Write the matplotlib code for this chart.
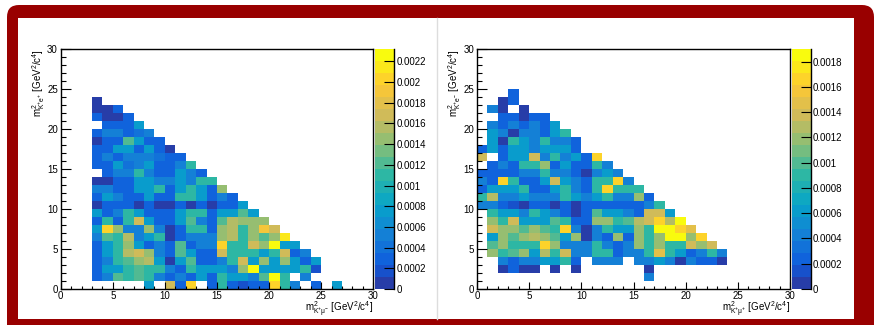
import matplotlib
matplotlib.use("Agg")
import matplotlib.pyplot as plt
import numpy as np
from matplotlib.colors import ListedColormap, BoundaryNorm, LinearSegmentedColormap
from matplotlib.patches import FancyBboxPatch, Rectangle

plt.rcParams['font.family'] = ['Liberation Sans', 'DejaVu Sans']
plt.rcParams['mathtext.fontset'] = 'custom'
plt.rcParams['mathtext.rm'] = 'Liberation Sans'
plt.rcParams['mathtext.it'] = 'Liberation Sans:italic'
plt.rcParams['mathtext.default'] = 'regular'

# bin contents in units of 1e-4, one list per y bin (y = 0, 1, 2, ...), index = x bin
left_rows = [
    [0, 0, 0, 0, 0, 0, 0, 0, 8, 0, 17, 3, 20, 0, 3, 11, 3, 1.5, 3, 3, 20, 11, 5.5, 0, 3, 0, 8],
    [0, 0, 0, 3, 5.5, 12, 11, 12, 11, 5.5, 3, 5.5, 3, 8, 3, 11, 8, 8, 5.5, 12, 23, 11, 0, 5.5],
    [0, 0, 0, 3, 8, 8, 11, 12, 11, 11, 5.5, 3, 11, 8, 8, 8, 5.5, 14, 23, 8, 8, 8, 8, 11, 1.5],
    [0, 0, 0, 3, 5.5, 11, 12, 14, 15.5, 8, 1, 8, 12, 3, 3, 5.5, 11, 17, 8, 14, 8, 14, 8, 3, 8],
    [0, 0, 0, 3, 8, 11, 15.5, 17, 14, 5.5, 3, 12, 8, 3, 3, 17, 11, 11, 11, 8, 11, 17, 3, 5.5],
    [0, 0, 0, 3, 8, 11, 14, 8, 3, 5.5, 3, 12, 3, 5.5, 5.5, 20, 11, 11, 17, 14, 23, 8, 8],
    [0, 0, 0, 5.5, 12, 11, 15.5, 5.5, 8, 11, 1, 3, 5.5, 5.5, 5.5, 14, 15.5, 11, 14, 12, 14, 22],
    [0, 0, 0, 8, 20, 14, 5.5, 5.5, 14, 5.5, 1, 3, 11, 11, 3, 14, 15.5, 11, 14, 19, 17],
    [0, 0, 0, 3, 11, 3, 11, 17, 8, 3, 3, 8, 12, 5.5, 3, 12, 15.5, 14, 14, 14],
    [0, 0, 0, 8, 3, 5.5, 11, 8, 3, 3, 3, 8, 11, 11, 3, 8, 8, 12, 8],
    [0, 0, 0, 1, 3, 3, 3, 1, 3, 1, 1, 3, 1, 3, 1, 3, 3, 8],
    [0, 0, 0, 3, 8, 5.5, 3, 3, 8, 3, 3, 11, 11, 8, 3, 5.5, 3],
    [0, 0, 0, 5.5, 5.5, 3, 3, 8, 8, 11, 3, 8, 11, 8, 3, 14],
    [0, 0, 0, 1, 1, 3, 3, 8, 8, 5.5, 5.5, 8, 5.5, 11, 11],
    [0, 0, 0, 0, 3, 5.5, 5.5, 11, 5.5, 3, 3, 8, 5.5, 3],
    [0, 0, 0, 3, 3, 8, 4, 5.5, 8, 3, 3, 5.5, 11],
    [0, 0, 0, 3, 5.5, 3, 5.5, 5.5, 5.5, 4, 3, 3],
    [0, 0, 0, 3, 3, 8, 8, 3, 8, 3, 1],
    [0, 0, 0, 1, 3, 3, 12, 8, 3, 3],
    [0, 0, 0, 3, 5.5, 5.5, 3, 4, 5.5],
    [0, 0, 0, 0, 3, 3, 3, 7],
    [0, 0, 0, 3, 1, 1, 3],
    [0, 0, 0, 1, 1, 3],
    [0, 0, 0, 1],
]

right_rows = [
    [],
    [0, 0, 0, 0, 0, 0, 0, 0, 0, 0, 0, 0, 0, 0, 0, 0, 4.5],
    [0, 0, 0.5, 2.4, 0.5, 0.5, 0, 0.5, 0, 0.5, 0, 0, 0, 0, 0, 0, 0.5],
    [0, 0, 4.5, 2.4, 4.5, 4.5, 6.5, 6.5, 9, 2.4, 0, 4.5, 4.5, 4.5, 0, 4.5, 4.5, 6.5, 4.5, 0.5, 4.5, 2.4, 2.4, 0.5],
    [0, 11.5, 9, 10, 11.5, 6.5, 12.7, 9, 13.9, 4.5, 4.5, 9, 9, 2.4, 4.5, 4.5, 9, 15, 9, 6.5, 2.4, 4.5, 9, 4.5],
    [0, 10, 11.5, 9, 9, 9, 16.3, 11.5, 4.5, 4.5, 4.5, 9, 4.5, 2.4, 4.5, 11.5, 9, 11.5, 9, 9, 13.9, 11.5, 13.9],
    [0, 6.5, 11.5, 10, 11.5, 12.7, 11.5, 10, 6.5, 11.5, 0.5, 4.5, 2.4, 11.5, 2.4, 11.5, 9, 11.5, 18.5, 18.5, 11.5, 16.3],
    [0, 13.9, 11.5, 11.5, 10, 11.5, 10, 9, 16.3, 4.5, 0.5, 4.5, 9, 6.5, 6.5, 11.5, 9, 18.5, 18.5, 16.3, 15],
    [0, 11.5, 9, 13.9, 6.5, 6.5, 6.5, 10, 9, 2.4, 2.4, 11.5, 11.5, 9, 10, 12.7, 13.9, 16.3, 12.7, 18.5],
    [0, 9, 6.5, 6.5, 4.5, 9, 6.5, 4.5, 2.4, 0.5, 2.4, 10, 6.5, 6.5, 4.5, 2.4, 13.9, 13.9, 6.5],
    [4.5, 4.5, 2.4, 1.5, 0.5, 2.4, 2.4, 0.5, 2.4, 0.5, 2.4, 2.4, 2.4, 2.4, 2.4, 2.4, 4.5, 9],
    [9, 12.7, 4.5, 4.5, 6.5, 4.5, 4.5, 4.5, 9, 6.5, 4.5, 6.5, 9, 4.5, 4.5, 11.5, 2.4],
    [2.4, 6.5, 6.5, 6.5, 9, 2.4, 2.4, 6.5, 9, 4.5, 2.4, 9, 16.3, 9, 9, 9],
    [4.5, 2.4, 16.3, 9, 2.4, 2.4, 6.5, 13.9, 6.5, 4.5, 2.4, 9, 9, 16.3, 4.5],
    [2.4, 2.4, 2.4, 2.4, 4.5, 4.5, 9, 4.5, 4.5, 2.4, 0.5, 4.5, 6.5, 4.5],
    [0, 2.4, 4.5, 2.4, 9, 9, 11.5, 2.4, 6.5, 2.4, 2.4, 9, 4.5],
    [13.9, 0, 2.4, 6.5, 6.5, 13.9, 4.5, 9, 4.5, 6.5, 2.4, 16.3],
    [2.4, 6.5, 2.4, 6.5, 6.5, 4.5, 6.5, 6.5, 6.5, 2.4],
    [0, 6.5, 0.5, 9, 6.5, 4.5, 9, 4.5, 4.5, 2.4],
    [0, 6.5, 4.5, 0.5, 4.5, 4.5, 2.4, 6.5, 9],
    [0, 4.5, 2.4, 4.5, 2.4, 4.5, 2.4, 6.5],
    [0, 0, 2.4, 2.4, 0.5, 2.4, 2.4],
    [0, 4.5, 0.5, 0, 0.5],
    [0, 0, 0.5, 2.4],
    [0, 0, 0, 2.4],
]

left_zmax = 0.00232
right_zmax = 0.0019
left_cbar_ticks = [0, 0.0002, 0.0004, 0.0006, 0.0008, 0.001, 0.0012, 0.0014, 0.0016, 0.0018, 0.002, 0.0022]
right_cbar_ticks = [0, 0.0002, 0.0004, 0.0006, 0.0008, 0.001, 0.0012, 0.0014, 0.0016, 0.0018]

left_xlabel = r"m$^{2}_{K^{+}\mu^{-}}$ [GeV$^{2}$/c$^{4}$]"
left_ylabel = r"m$^{2}_{K^{+}e^{+}}$ [GeV$^{2}$/c$^{4}$]"
right_xlabel = r"m$^{2}_{K^{+}\mu^{+}}$ [GeV$^{2}$/c$^{4}$]"
right_ylabel = r"m$^{2}_{K^{+}e^{-}}$ [GeV$^{2}$/c$^{4}$]"

# ROOT kBird palette
stops = [0.0, 0.125, 0.25, 0.375, 0.5, 0.625, 0.75, 0.875, 1.0]
red = [0.2082, 0.0592, 0.0780, 0.0232, 0.1802, 0.5301, 0.8186, 0.9956, 0.9764]
green = [0.1664, 0.3599, 0.5041, 0.6419, 0.7178, 0.7492, 0.7328, 0.7862, 0.9832]
blue = [0.5293, 0.8684, 0.8385, 0.7914, 0.6425, 0.4662, 0.3499, 0.1968, 0.0539]
bird = LinearSegmentedColormap.from_list(
    "bird", list(zip(stops, zip(red, green, blue))))
nlev = 20
cmap = ListedColormap([bird(min((i + 0.99) / nlev, 1.0)) for i in range(nlev)])

W, H = 877, 325


def to_grid(rows):
    z = np.zeros((30, 30))
    for j, r in enumerate(rows):
        z[j, :len(r)] = r
    z = z * 1e-4
    return np.ma.masked_where(z <= 0, z)


def draw(rect, cbrect, rows, zmax, ticks, xlabel, ylabel):
    x0, y0, x1, y1 = rect
    ax = fig.add_axes([x0 / W, 1 - y1 / H, (x1 - x0) / W, (y1 - y0) / H])
    edges = np.arange(31)
    norm = BoundaryNorm(np.linspace(0, zmax, nlev + 1), nlev)
    mesh = ax.pcolormesh(edges, edges, to_grid(rows), cmap=cmap, norm=norm)
    ax.set_xlim(0, 30)
    ax.set_ylim(0, 30)
    ax.set_xticks(range(0, 31, 5))
    ax.set_yticks(range(0, 31, 5))
    ax.set_xticks(range(31), minor=True)
    ax.set_yticks(range(31), minor=True)
    ax.tick_params(axis='x', which='major', direction='in', length=5, width=0.8, labelsize=7, pad=1.5)
    ax.tick_params(axis='x', which='minor', direction='in', length=2.5, width=0.8)
    ax.tick_params(axis='y', which='major', direction='in', length=7, width=0.8, labelsize=7, pad=2)
    ax.tick_params(axis='y', which='minor', direction='in', length=3.5, width=0.8)
    for s in ax.spines.values():
        s.set_linewidth(1.0)
    ax.text(1.0, -0.045, xlabel, transform=ax.transAxes, ha='right', va='top', fontsize=7)
    ax.text(-0.07, 1.0, ylabel, transform=ax.transAxes, ha='center', va='top',
            rotation=90, fontsize=7)

    c0, c1 = cbrect
    cax = fig.add_axes([c0 / W, 1 - y1 / H, (c1 - c0) / W, (y1 - y0) / H])
    cb = fig.colorbar(mesh, cax=cax, ticks=ticks)
    cb.outline.set_visible(False)
    cax.plot([1, 1], [0, 1], transform=cax.transAxes, color='k', lw=1, clip_on=False)
    cax.tick_params(direction='in', length=7, width=0.8, labelsize=7, pad=1.5)
    cb.ax.set_yticklabels([f"{t:g}" for t in ticks])
    cb.ax.minorticks_off()


fig = plt.figure(figsize=(W / 100, H / 100), dpi=100)

# background frame
bg = fig.add_axes([0, 0, 1, 1], zorder=-5)
bg.set_xlim(0, W)
bg.set_ylim(H, 0)
bg.axis('off')
bg.add_patch(FancyBboxPatch((7, 5), 867, 335, boxstyle="round,pad=0,rounding_size=12",
                            fc='#990000', ec='none'))
bg.add_patch(Rectangle((18, 18), 836, 301, fc='white', ec='none'))
bg.plot([436.5, 436.5], [18, 319], color='#dddddd', lw=1)

draw((60.7, 49, 373.3, 289), (375, 394.3), left_rows, left_zmax, left_cbar_ticks,
     left_xlabel, left_ylabel)
draw((477, 49, 790, 289), (792, 811), right_rows, right_zmax, right_cbar_ticks,
     right_xlabel, right_ylabel)

fig.savefig("out.png", dpi=100)
